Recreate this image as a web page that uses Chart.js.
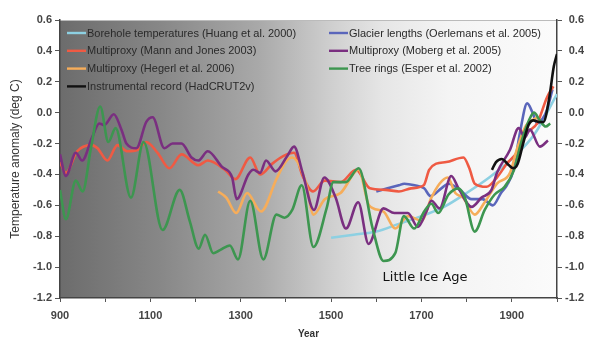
<!DOCTYPE html>
<html lang="en">
<head>
<meta charset="UTF-8">
<title>Temperature reconstructions 900-2000</title>
<script src="https://cdn.jsdelivr.net/npm/chart.js@4.4.1/dist/chart.umd.min.js"></script>
<style>
    html, body { margin: 0; padding: 0; background: #fff; }
    .chart-box { width: 591px; height: 340px; }
</style>
</head>
<body>
<div class="chart-box"><canvas id="tempChart" width="591" height="340"></canvas></div>
<script>
// Values: year -> temperature anomaly (deg C)
const xLabelYears = [900, 1100, 1300, 1500, 1700, 1900];

const boreholeYears = [1500, 1550, 1600, 1650, 1700, 1750, 1800, 1850, 1900, 1950, 2000];
const boreholeTemps = [-0.81, -0.79, -0.77, -0.72, -0.67, -0.61, -0.52, -0.42, -0.30, -0.14, 0.12];

const mannYears = [900, 913, 938, 969, 983, 1005, 1027, 1049, 1072, 1091, 1116, 1142, 1169, 1206, 1227, 1265, 1288,
    1321, 1343, 1370, 1395, 1418, 1437, 1460, 1486, 1521, 1555, 1586, 1620, 1650, 1677, 1705, 1717, 1733, 1755,
    1793, 1806, 1818, 1844, 1867, 1889, 1911, 1934, 1956, 1978, 1992];
const mannTemps = [-0.32, -0.39, -0.25, -0.21, -0.23, -0.31, -0.21, -0.25, -0.24, -0.19, -0.26, -0.36, -0.27, -0.34, -0.31, -0.37, -0.43,
    -0.29, -0.40, -0.33, -0.28, -0.26, -0.41, -0.51, -0.44, -0.45, -0.37, -0.49, -0.50, -0.51, -0.49, -0.47, -0.37, -0.33, -0.32,
    -0.29, -0.36, -0.46, -0.48, -0.42, -0.33, -0.26, -0.13, -0.07, 0.10, 0.17];

const hegerlYears = [1250, 1268, 1290, 1314, 1345, 1379, 1399, 1414, 1444, 1461, 1486, 1521, 1561, 1584, 1616, 1642,
    1670, 1700, 1722, 1740, 1758, 1775, 1792, 1818, 1840, 1867, 1896, 1911, 1930, 1956];
const hegerlTemps = [-0.51, -0.55, -0.65, -0.52, -0.64, -0.43, -0.32, -0.29, -0.45, -0.66, -0.56, -0.52, -0.37, -0.60, -0.64, -0.75,
    -0.67, -0.70, -0.55, -0.46, -0.42, -0.52, -0.55, -0.66, -0.58, -0.46, -0.39, -0.24, -0.09, -0.03];

const hadcrutYears = [1856, 1865, 1878, 1890, 1903, 1913, 1925, 1937, 1948, 1960, 1970, 1982, 1993, 2000];
const hadcrutTemps = [-0.37, -0.32, -0.30, -0.33, -0.36, -0.33, -0.20, -0.08, -0.05, -0.06, -0.06, 0.08, 0.30, 0.38];

const glacierYears = [1600, 1625, 1650, 1662, 1685, 1706, 1720, 1744, 1760, 1785, 1811, 1835, 1858, 1876, 1889, 1904,
    1918, 1934, 1946, 1956, 1968, 1978, 1990];
const glacierTemps = [-0.51, -0.49, -0.47, -0.46, -0.47, -0.49, -0.54, -0.49, -0.46, -0.50, -0.56, -0.56, -0.60, -0.52, -0.47, -0.37,
    -0.13, 0.06, 0.00, -0.07, -0.04, 0.02, 0.15];

const mobergYears = [900, 913, 935, 949, 971, 987, 998, 1019, 1036, 1047, 1069, 1091, 1105, 1131, 1149, 1169, 1191, 1206,
    1227, 1258, 1281, 1291, 1317, 1328, 1343, 1356, 1377, 1403, 1418, 1437, 1462, 1485, 1510, 1533, 1560, 1583, 1616,
    1640, 1670, 1692, 1711, 1722, 1740, 1766, 1782, 1811, 1833, 1855, 1867, 1896, 1915, 1929, 1940, 1962, 1980];
const mobergTemps = [-0.27, -0.41, -0.26, -0.31, -0.16, -0.07, -0.08, -0.01, -0.11, -0.20, -0.23, -0.06, -0.03, -0.23, -0.20, -0.20, -0.29, -0.31,
    -0.25, -0.35, -0.42, -0.56, -0.40, -0.37, -0.39, -0.31, -0.38, -0.28, -0.22, -0.39, -0.63, -0.42, -0.55, -0.75, -0.58, -0.85, -0.62,
    -0.65, -0.65, -0.74, -0.64, -0.57, -0.62, -0.41, -0.49, -0.61, -0.55, -0.50, -0.39, -0.24, -0.10, -0.16, -0.11, -0.22, -0.18];

const esperYears = [900, 913, 935, 950, 969, 989, 1007, 1023, 1057, 1085, 1127, 1165, 1187, 1207, 1221, 1239, 1254, 1276,
    1294, 1321, 1350, 1379, 1397, 1414, 1435, 1461, 1490, 1505, 1532, 1561, 1592, 1616, 1642, 1661, 1684, 1706, 1722,
    1737, 1760, 1782, 1796, 1818, 1840, 1862, 1884, 1905, 1920, 1938, 1949, 1962, 1975, 1985];
const esperTemps = [-0.50, -0.69, -0.44, -0.51, -0.22, 0.04, -0.19, -0.10, -0.55, -0.19, -0.76, -0.50, -0.70, -0.88, -0.79, -0.91, -0.89, -0.86,
    -0.95, -0.57, -0.95, -0.66, -0.68, -0.63, -0.47, -0.87, -0.62, -0.45, -0.45, -0.36, -0.75, -0.96, -0.91, -0.67, -0.75, -0.64, -0.59,
    -0.65, -0.53, -0.49, -0.55, -0.77, -0.63, -0.53, -0.48, -0.37, -0.20, -0.05, 0.00, -0.05, -0.09, -0.07];

function toPoints(years, temps) {
    return years.map((yr, i) => ({ x: yr, y: temps[i] }));
}

function series(label, years, temps, color, order) {
    return {
        label: label,
        data: toPoints(years, temps),
        borderColor: color,
        backgroundColor: color,
        borderWidth: 2.6,
        pointRadius: 0,
        cubicInterpolationMode: 'monotone',
        fill: false,
        order: order
    };
}

const datasets = [
    series('Borehole temperatures (Huang et al. 2000)', boreholeYears, boreholeTemps, '#8dd0e2', 6),
    series('Multiproxy (Mann and Jones 2003)', mannYears, mannTemps, '#ef5a43', 4),
    series('Multiproxy (Hegerl et al. 2006)', hegerlYears, hegerlTemps, '#f6ad5a', 3),
    series('Instrumental record (HadCRUT2v)', hadcrutYears, hadcrutTemps, '#111111', 0),
    series('Glacier lengths (Oerlemans et al. 2005)', glacierYears, glacierTemps, '#5a66bb', 5),
    series('Multiproxy (Moberg et al. 2005)', mobergYears, mobergTemps, '#7a2f80', 2),
    series('Tree rings (Esper et al. 2002)', esperYears, esperTemps, '#3d9650', 1)
];

const tickFont = { family: '"Liberation Sans", Arial, sans-serif', size: 11, weight: 'bold' };
const tickColor = '#444';

function fmtTemp(v) {
    if (Math.abs(v) < 1e-9) return '0.0';
    return v.toFixed(1);
}

// gray-to-white backdrop behind the curves
const backdrop = {
    id: 'backdrop',
    beforeDraw(chart) {
        const { ctx, chartArea: a } = chart;
        const g = ctx.createLinearGradient(a.left, 0, a.right, 0);
        g.addColorStop(0, '#6c6c6c');
        g.addColorStop(0.2, '#878787');
        g.addColorStop(0.4, '#a9a9a9');
        g.addColorStop(0.55, '#d0d0d0');
        g.addColorStop(0.65, '#e6e6e6');
        g.addColorStop(0.78, '#f4f4f4');
        g.addColorStop(1, '#fbfbfb');
        ctx.save();
        ctx.fillStyle = g;
        ctx.fillRect(a.left, a.top, a.right - a.left, a.bottom - a.top);
        ctx.strokeStyle = '#bbb';
        ctx.lineWidth = 1;
        ctx.beginPath();
        ctx.moveTo(a.left, a.top + 0.5);
        ctx.lineTo(a.right, a.top + 0.5);
        ctx.stroke();
        ctx.restore();
    }
};

// two-column legend inside the plot + "Little Ice Age" note
const legendBox = {
    id: 'legendBox',
    afterDraw(chart) {
        const { ctx } = chart;
        ctx.save();
        ctx.font = '11px "Liberation Sans", Arial, sans-serif';
        ctx.textBaseline = 'middle';
        ctx.textAlign = 'left';
        chart.data.datasets.forEach((ds, i) => {
            const col = i < 4 ? 0 : 1;
            const row = col ? i - 4 : i;
            const x = col ? 329 : 67;
            const y = 33 + row * 17.8;
            ctx.strokeStyle = ds.borderColor;
            ctx.lineWidth = 2.4;
            ctx.beginPath();
            ctx.moveTo(x, y);
            ctx.lineTo(x + 19, y);
            ctx.stroke();
            ctx.fillStyle = '#2a2a2a';
            ctx.fillText(ds.label, x + 20, y + 0.5);
        });

        const xs = chart.scales.x, ys = chart.scales.y;
        ctx.font = '13px "DejaVu Sans", Verdana, sans-serif';
        ctx.fillStyle = '#111';
        ctx.textAlign = 'center';
        ctx.fillText('Little Ice Age', xs.getPixelForValue(1708), ys.getPixelForValue(-1.07));
        ctx.restore();
    }
};

new Chart(document.getElementById('tempChart'), {
    type: 'line',
    data: { datasets: datasets },
    options: {
        responsive: false,
        devicePixelRatio: 1,
        animation: false,
        layout: { padding: { top: 20, right: 7, left: 0, bottom: 0 } },
        plugins: {
            legend: { display: false },
            tooltip: { enabled: false }
        },
        scales: {
            x: {
                type: 'linear',
                position: 'bottom',
                min: 900,
                max: 2000,
                ticks: {
                    stepSize: 100,
                    autoSkip: false,
                    maxRotation: 0,
                    padding: 7,
                    color: tickColor,
                    font: tickFont,
                    callback: v => xLabelYears.includes(v) ? String(v) : ''
                },
                grid: { drawOnChartArea: false, drawTicks: true, tickLength: 4, color: '#555' },
                border: { display: true, color: '#444', width: 1.5 },
                title: {
                    display: true,
                    text: 'Year',
                    color: '#333',
                    font: { family: '"Liberation Sans", Arial, sans-serif', size: 10, weight: 'bold' },
                    padding: { top: 0, bottom: 0 }
                },
                afterFit: s => { s.height = 42; }
            },
            y: {
                position: 'left',
                min: -1.2,
                max: 0.6,
                ticks: { stepSize: 0.2, padding: 3, color: tickColor, font: tickFont, callback: fmtTemp },
                grid: { drawOnChartArea: false, tickLength: 5, color: '#555' },
                border: { display: true, color: '#444', width: 1.5 },
                title: {
                    display: true,
                    text: 'Temperature anomaly (deg C)',
                    color: '#333',
                    font: { family: '"Liberation Sans", Arial, sans-serif', size: 12 },
                    padding: { top: 8, bottom: 0 }
                },
                afterFit: s => { s.width = 60; }
            },
            y2: {
                position: 'right',
                min: -1.2,
                max: 0.6,
                ticks: { stepSize: 0.2, padding: 3, crossAlign: 'far', color: tickColor, font: tickFont, callback: fmtTemp },
                grid: { drawOnChartArea: false, tickLength: 5, color: '#555' },
                border: { display: true, color: '#444', width: 1.5 },
                afterFit: s => { s.width = 27; }
            }
        }
    },
    plugins: [backdrop, legendBox]
});
</script>
</body>
</html>
